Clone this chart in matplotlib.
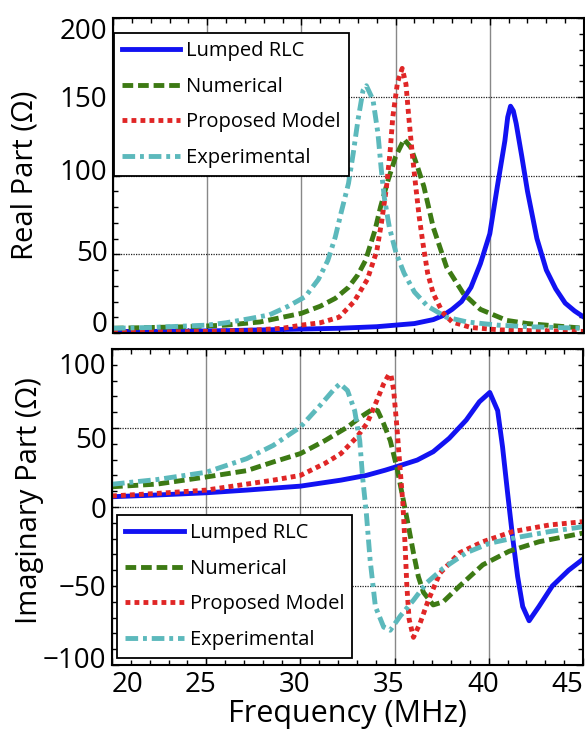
import numpy as np
import matplotlib
matplotlib.use('Agg')
import matplotlib.pyplot as plt
from matplotlib.ticker import MultipleLocator
from matplotlib.transforms import ScaledTranslation

plt.rcParams['font.family'] = ['Open Sans', 'DejaVu Sans']

# real part
f_re_rlc = [20, 22, 24, 26, 28, 30, 32, 33, 34, 35, 36, 37, 37.5, 38, 38.5, 39, 39.5, 40, 40.4,
            40.8, 40.95, 41.1, 41.25, 41.4, 41.7, 42.0, 42.5, 43, 43.5, 44, 44.5, 45]
re_rlc = [1, 1, 1.2, 1.5, 2, 2.5, 3, 3.5, 4, 5, 6, 8.5, 11, 15, 20, 29, 44, 63, 93,
          122, 137, 144, 141, 133, 112, 90, 60, 40, 28, 19, 14, 10]

f_re_num = [20, 22, 24, 26, 27.8, 29, 30, 31, 31.8, 32.5, 33, 33.4, 33.9, 34.2, 34.6, 35.0, 35.45,
            35.8, 36.15, 36.5, 37.0, 37.7, 38.6, 39.5, 40.9, 42, 43, 45]
re_num = [3, 3.5, 4, 5, 7, 10, 12.5, 17, 22, 29, 37, 46, 65, 80, 97, 112, 123,
          118, 106, 93, 67, 42, 25, 15, 8, 6, 5, 3]

f_re_prop = [20, 24, 27, 29, 30, 31, 32, 32.8, 33.5, 34.0, 34.25, 34.5, 34.7, 34.85, 35.1, 35.35,
             35.55, 35.7, 35.9, 36.07, 36.25, 36.45, 36.7, 37.0, 37.5, 38, 39, 40.5, 42, 45]
re_prop = [0.5, 0.8, 1.5, 3, 5, 6.5, 10, 20, 34, 52, 70, 91, 114, 137, 159, 168,
           158, 137, 112, 93, 74, 57, 38, 25, 13, 7, 3.5, 2, 1.5, 1]

f_re_exp = [20, 22, 24, 25, 26, 27.2, 28.3, 29.3, 30.2, 30.9, 31.4, 31.8, 32.1, 32.5, 32.75, 33.0,
            33.27, 33.45, 33.8, 34.06, 34.23, 34.4, 34.67, 35.02, 35.45, 36.0, 36.7, 37.7, 38.8,
            40.4, 42, 45]
re_exp = [3, 3.5, 4.5, 5, 6.5, 9, 11.5, 17, 23, 34, 46, 61, 76, 95, 114, 135,
          154, 157, 148, 127, 105, 86, 67, 51, 38, 26, 17, 10, 7,
          5, 4, 3]

# imaginary part
f_im_rlc = [20, 22.4, 25, 27.15, 30, 32.15, 33.5, 34.5, 35.1, 36.2, 37.05, 37.9, 38.8, 39.5, 40.05,
            40.47, 40.73, 41.0, 41.26, 41.53, 41.8, 42.14, 42.66, 43.37, 44.24, 45]
im_rlc = [6.5, 7.6, 9, 10.7, 13.2, 17, 20, 23.3, 25.5, 29.7, 35, 43.5, 55, 66.6, 72.5,
          61, 38, 8.6, -18.7, -44, -63, -72, -63, -50, -40, -33]

f_im_num = [20, 22.4, 25, 27.15, 28.56, 30, 31.3, 32.5, 33.2, 33.85, 34.1, 34.42, 34.77, 35.12,
            35.47, 35.74, 36.0, 36.26, 36.53, 37.05, 37.58, 38.45, 39.68, 41.08, 42.66, 45]
im_num = [12.8, 14.5, 19, 23, 28.5, 33.8, 42, 50.6, 57, 62, 61, 52.7, 42, 25,
          4, -12.5, -29, -44, -54, -62, -60, -50, -36.6, -28, -22, -16.5]

f_im_prop = [20, 22.4, 25, 27.15, 28.56, 30, 31.3, 32.15, 33.0, 33.54, 33.9, 34.07, 34.42, 34.68,
             34.8, 34.95, 35.12, 35.3, 35.44, 35.56, 35.65, 35.77, 36.0, 36.35, 36.79, 37.4, 38.45,
             39.68, 41.26, 43.2, 45]
im_prop = [7, 8.6, 10.7, 14.5, 17, 20, 27.6, 33.8, 44.3, 53, 63, 67.7, 78, 83.5,
           84, 74, 51, 23, 2.3, -25, -50, -71, -82.5, -73.6, -59, -42, -29,
           -22, -15.6, -11.4, -9.3]

f_im_exp = [20, 22.4, 25, 27.15, 28.56, 30, 31.1, 31.8, 32.1, 32.5, 32.88, 33.15, 33.3, 33.5, 33.7,
            33.98, 34.42, 34.77, 35.3, 36.0, 36.7, 37.58, 38.8, 40.03, 41.26, 43.2, 45]
im_exp = [14.4, 17.4, 22, 30.6, 39, 50.6, 65, 74.7, 78, 73.7, 61, 42, 19, -4, -33.5,
          -63, -76, -78, -69, -59, -48, -38.8, -29, -23, -19.8, -15.6, -12.5]

labels = ['Lumped RLC', 'Numerical', 'Proposed Model', 'Experimental']
colors = ['#1212F2', '#3D7A14', '#E02626', '#5CB9BC']
styles = ['-', (0, (2.2, 1.0)), (0, (1.0, 0.85)), (0, (2.6, 1.0, 0.8, 1.0))]

fig = plt.figure(figsize=(5.85, 7.29), dpi=100)
ax1 = fig.add_axes([113/585, 1-333/729, 471/585, 315/729])
ax2 = fig.add_axes([112/585, 1-665/729, 471/585, 316/729])

top_data = [(f_re_rlc, re_rlc), (f_re_num, re_num), (f_re_prop, re_prop), (f_re_exp, re_exp)]
bot_data = [(f_im_rlc, im_rlc), (f_im_num, im_num), (f_im_prop, im_prop), (f_im_exp, im_exp)]

for ax, data in [(ax1, top_data), (ax2, bot_data)]:
    for (f, v), lab, c, ls in zip(data, labels, colors, styles):
        ax.plot(f, v, color=c, linestyle=ls, lw=3.5, label=lab,
                solid_joinstyle='round', dash_capstyle='butt')
    ax.set_xlim(20, 45.0)
    ax.xaxis.set_major_locator(MultipleLocator(5))
    ax.xaxis.set_minor_locator(MultipleLocator(1))
    ax.yaxis.set_minor_locator(MultipleLocator(10))
    ax.grid(True, axis='x', color='#888888', lw=1.0, ls='-')
    ax.grid(True, axis='y', color='#222222', lw=0.9, ls=(0, (1, 1)))
    ax.tick_params(which='both', direction='in', top=True, right=True, width=1)
    ax.tick_params(which='major', length=5, labelsize=20, pad=4)
    ax.tick_params(which='minor', length=3.5)
    for s in ax.spines.values():
        s.set_linewidth(1.5)

ax1.set_ylim(0, 200)
ax1.set_yticks([0, 50, 100, 150, 200])
ax1.tick_params(axis='x', labelbottom=False)
ax1.set_ylabel('Real Part (\u03a9)', fontsize=21)
ax1.yaxis.set_label_coords(-0.155, 0.5)

ax2.set_ylim(-100, 100)
ax2.set_yticks([-100, -50, 0, 50, 100])
ax2.set_ylabel('Imaginary Part (\u03a9)', fontsize=21)
ax2.yaxis.set_label_coords(-0.145, 0.52)
ax2.set_xlabel('Frequency (MHz)', fontsize=22, labelpad=0)

leg_kw = dict(fontsize=14.5, frameon=True, fancybox=False, framealpha=1, edgecolor='black',
              borderaxespad=0, handlelength=2.9, handletextpad=0.3, labelspacing=0.77,
              borderpad=0.4)
l1 = ax1.legend(loc='upper left', bbox_to_anchor=(0.002, 0.952), **leg_kw)
l2 = ax2.legend(loc='lower left', bbox_to_anchor=(0.011, 0.022), **leg_kw)
for l in (l1, l2):
    l.get_frame().set_linewidth(1.3)

# tick labels sit a little off their ticks in the original
fig.canvas.draw()

def nudge(t, dx, dy):
    t.set_transform(t.get_transform() + ScaledTranslation(dx/100, dy/100, fig.dpi_scale_trans))

for tk in ax2.xaxis.get_major_ticks():
    x = tk.get_loc()
    if x == 20:
        tk.label1.set_ha('left')
    elif x == 45:
        tk.label1.set_ha('right')
    else:
        nudge(tk.label1, -6, 0)

top_dy = {200: -10, 150: 0, 100: 6, 50: 4, 0: 11}
bot_dy = {100: -15, 50: -9, 0: 0, -50: 0, -100: 7}
for ax, dy in [(ax1, top_dy), (ax2, bot_dy)]:
    for tk in ax.yaxis.get_major_ticks():
        v = round(tk.get_loc())
        if v in dy:
            nudge(tk.label1, 0, dy[v])

fig.savefig('out.png', dpi=100)
